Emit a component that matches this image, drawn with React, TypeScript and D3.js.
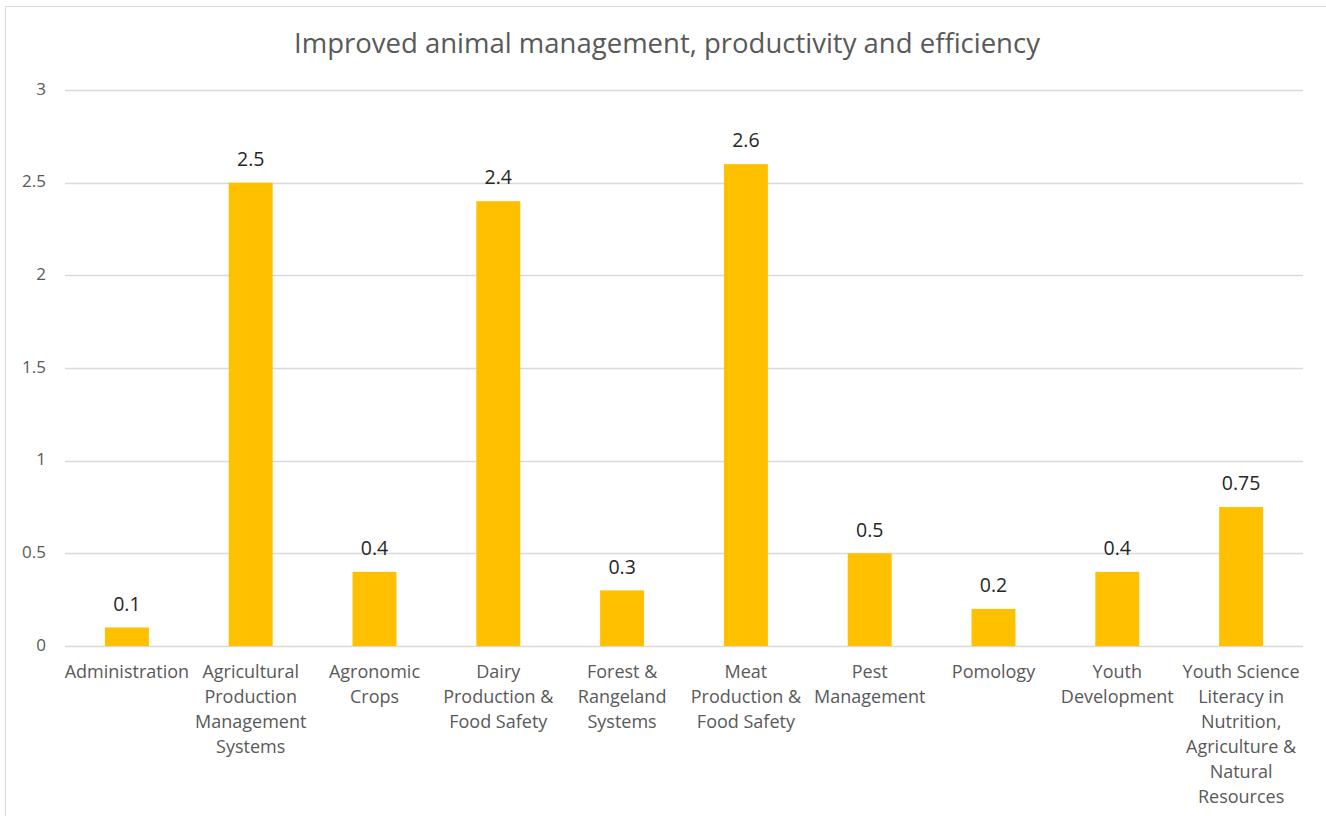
import React from "react";
import * as d3 from "d3";

const categories = [
  "Administration",
  "Agricultural Production Management Systems",
  "Agronomic Crops",
  "Dairy Production & Food Safety",
  "Forest & Rangeland Systems",
  "Meat Production & Food Safety",
  "Pest Management",
  "Pomology",
  "Youth Development",
  "Youth Science Literacy in Nutrition, Agriculture & Natural Resources",
];
const categoryLines = [
  ["Administration"],
  ["Agricultural", "Production", "Management", "Systems"],
  ["Agronomic", "Crops"],
  ["Dairy", "Production &", "Food Safety"],
  ["Forest &", "Rangeland", "Systems"],
  ["Meat", "Production &", "Food Safety"],
  ["Pest", "Management"],
  ["Pomology"],
  ["Youth", "Development"],
  ["Youth Science", "Literacy in", "Nutrition,", "Agriculture &", "Natural", "Resources"],
];
const values = [0.1, 2.5, 0.4, 2.4, 0.3, 2.6, 0.5, 0.2, 0.4, 0.75];
const valueLabels = ["0.1", "2.5", "0.4", "2.4", "0.3", "2.6", "0.5", "0.2", "0.4", "0.75"];
const yTicks = [0, 0.5, 1, 1.5, 2, 2.5, 3];
const yTickLabels = ["0", "0.5", "1", "1.5", "2", "2.5", "3"];
const title = "Improved animal management, productivity and efficiency";

const W = 1326;
const H = 816;
const left = 65;
const right = 1303;
const top = 90;
const bottom = 646;
const font = "'Open Sans', 'Segoe UI', sans-serif";

export default function App() {
  const x = d3.scaleBand<string>().domain(categories).range([left, right]).paddingInner(0.645).paddingOuter(0.3225);
  const y = d3.scaleLinear().domain([0, 3]).range([bottom, top]);

  return (
    <svg width={W} height={H} style={{ position: "fixed", left: 0, top: 0, background: "#fff" }}>
      <rect x={5.5} y={6.5} width={W + 10} height={H + 10} fill="#fff" stroke="#d9d9d9" strokeWidth={1} />
      <text x={667} y={46} textAnchor="middle" dominantBaseline="middle" fontFamily={font} fontSize={27.5} fill="#595959">
        {title}
      </text>
      {yTicks.map((t, i) => (
        <g key={t}>
          <line x1={left} x2={right} y1={Math.round(y(t)) + 0.5} y2={Math.round(y(t)) + 0.5} stroke="#d9d9d9" strokeWidth={1.5} />
          <text x={46} y={y(t)} textAnchor="end" dominantBaseline="middle" fontFamily={font} fontSize={17} fill="#595959">
            {yTickLabels[i]}
          </text>
        </g>
      ))}
      {categories.map((c, i) => {
        const bx = x(c)!;
        const bw = x.bandwidth();
        const cx = bx + bw / 2;
        return (
          <g key={c}>
            <rect x={bx} y={y(values[i])} width={bw} height={y(0) - y(values[i])} fill="#FFC000" />
            <text x={cx} y={y(values[i]) - 22} textAnchor="middle" dominantBaseline="middle" fontFamily={font} fontSize={19.5} fill="#262626">
              {valueLabels[i]}
            </text>
            {categoryLines[i].map((ln, j) => (
              <text key={j} x={cx} y={673 + j * 25} textAnchor="middle" dominantBaseline="middle" fontFamily={font} fontSize={18} fill="#595959">
                {ln}
              </text>
            ))}
          </g>
        );
      })}
    </svg>
  );
}
